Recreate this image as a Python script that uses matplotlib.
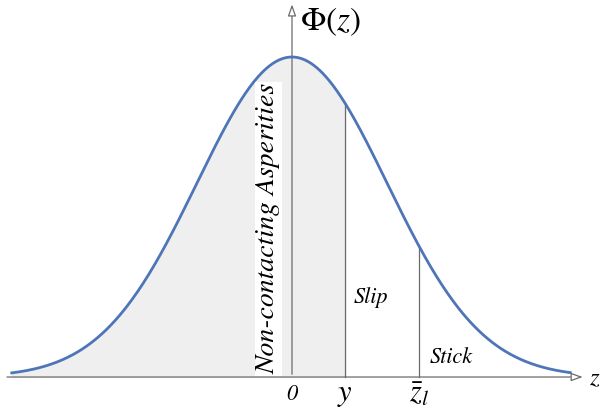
import numpy as np
import matplotlib
matplotlib.use("Agg")
from matplotlib import pyplot as plt

plt.rcParams['mathtext.fontset'] = 'stix'
plt.rcParams['font.family'] = ['STIXGeneral', 'DejaVu Serif']

# marker positions along z (in units of sigma)
Y_POS = 0.56
Z_L = 1.34
Z_MIN, Z_MAX = -2.95, 2.93

def phi(z):
    return np.exp(-z ** 2 / 2) / np.sqrt(2 * np.pi)

fig = plt.figure(figsize=(6.03, 4.16), dpi=100)
ax = fig.add_axes([0, 0, 1, 1])
ax.set_xlim(-3.074, 3.274)
ax.set_ylim(-0.0486, 0.470)
ax.axis('off')

zs = np.linspace(Z_MIN, Z_MAX, 400)
ax.plot(zs, phi(zs), color='#4e75b8', lw=2.0, zorder=4)

# shaded region of non-contacting asperities
zf = zs[zs <= Y_POS]
ax.fill_between(np.append(zf, Y_POS), 0, phi(np.append(zf, Y_POS)),
                color='#efefef', zorder=1)

axc = '#6b6b6b'
ax.plot([Y_POS, Y_POS], [0, phi(Y_POS)], color=axc, lw=0.9, zorder=3)
ax.plot([Z_L, Z_L], [0, phi(Z_L)], color=axc, lw=0.9, zorder=3)

# axes with hollow arrow heads
ax.annotate('', xy=(3.09, 0), xytext=(-3.03, 0),
            arrowprops=dict(arrowstyle='-|>,head_length=0.7,head_width=0.25',
                            fc='white', ec=axc, lw=0.9), zorder=3)
ax.annotate('', xy=(0, 0.468), xytext=(0, 0),
            arrowprops=dict(arrowstyle='-|>,head_length=0.7,head_width=0.25',
                            fc='white', ec=axc, lw=0.9), zorder=3)

ax.text(0.08, 0.443, r'$\Phi(z)$', fontsize=24, ha='left', va='center')
ax.text(3.13, -0.003, r'$z$', fontsize=18, ha='left', va='center')

ax.text(0, -0.022, '0', fontsize=16, style='italic', ha='center', va='center')
ax.text(Y_POS, -0.023, r'$y$', fontsize=22, ha='center', va='center')
ax.text(Z_L, -0.022, r'$\bar{z}_l$', fontsize=22, ha='center', va='center')

ax.text(-0.25, 0.185, 'Non-contacting Asperities', fontsize=20, style='italic',
        rotation=90, ha='center', va='center', zorder=5,
        bbox=dict(facecolor='white', edgecolor='none', pad=1.0))
ax.text(0.65, 0.099, 'Slip', fontsize=16, style='italic', ha='left', va='center')
ax.text(1.45, 0.024, 'Stick', fontsize=16, style='italic', ha='left', va='center')

fig.savefig('out.png', dpi=100)
